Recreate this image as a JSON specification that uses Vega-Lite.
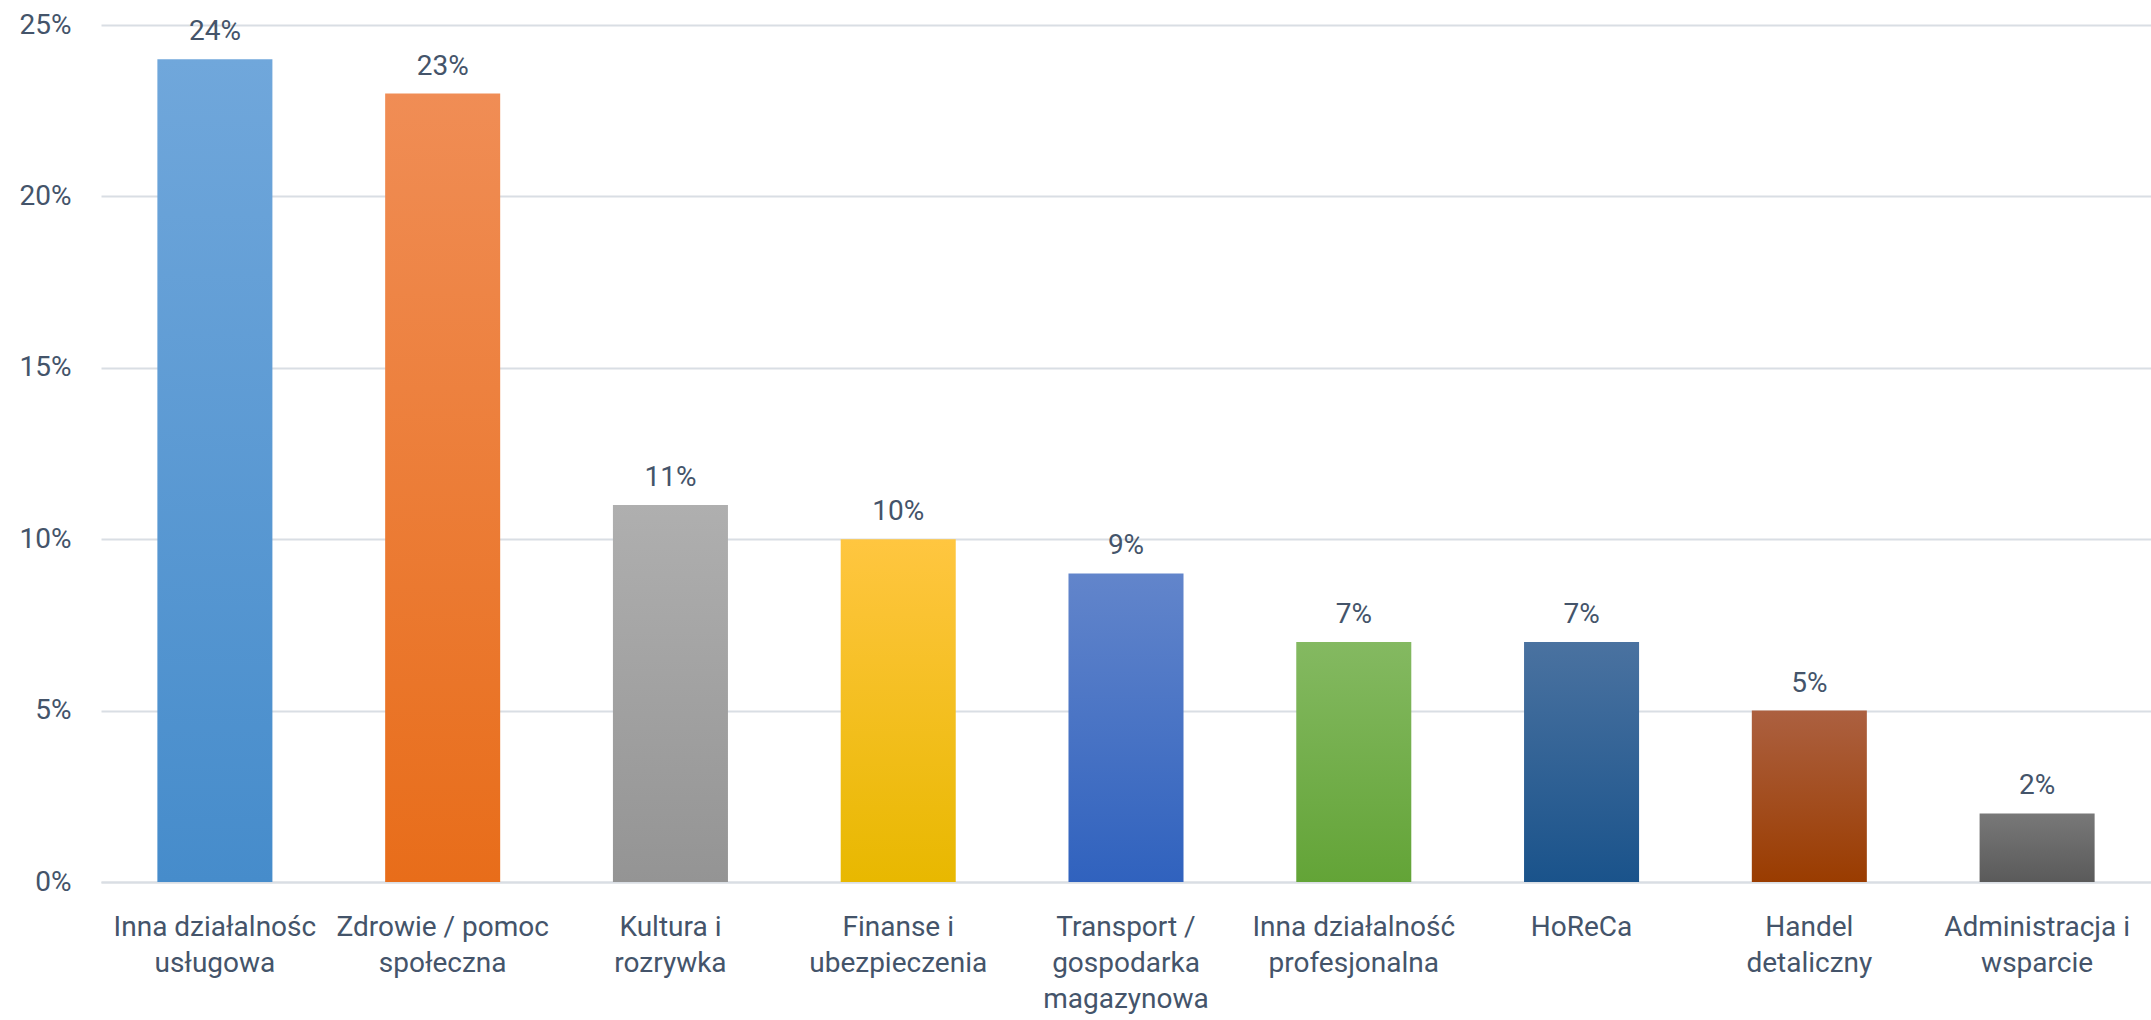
{
  "$schema": "https://vega.github.io/schema/vega-lite/v6.json",
  "width": 2050,
  "height": 857,
  "autosize": {"type": "none"},
  "padding": {"left": 101, "top": 25, "right": 0, "bottom": 138},
  "background": "white",
  "config": {"view": {"stroke": null}, "font": "Roboto"},
  "data": {"values": [
    {"cat": "Inna działalnośc\nusługowa", "v": 0.24},
    {"cat": "Zdrowie / pomoc\nspołeczna", "v": 0.23},
    {"cat": "Kultura i\nrozrywka", "v": 0.11},
    {"cat": "Finanse i\nubezpieczenia", "v": 0.10},
    {"cat": "Transport /\ngospodarka\nmagazynowa", "v": 0.09},
    {"cat": "Inna działalność\nprofesjonalna", "v": 0.07},
    {"cat": "HoReCa", "v": 0.07},
    {"cat": "Handel\ndetaliczny", "v": 0.05},
    {"cat": "Administracja i\nwsparcie", "v": 0.02}
  ]},
  "encoding": {
    "x": {
      "field": "cat", "type": "nominal", "sort": null,
      "scale": {
        "domain": ["Inna działalnośc\nusługowa", "Zdrowie / pomoc\nspołeczna", "Kultura i\nrozrywka", "Finanse i\nubezpieczenia", "Transport /\ngospodarka\nmagazynowa", "Inna działalność\nprofesjonalna", "HoReCa", "Handel\ndetaliczny", "Administracja i\nwsparcie"],
        "paddingInner": 0.495, "paddingOuter": 0.2475
      },
      "axis": {
        "title": null, "labelAngle": 0, "domain": true, "domainColor": "#D9DEE4", "domainWidth": 2,
        "ticks": false, "grid": false, "labelPadding": 31, "labelBaseline": "top", "labelLineHeight": 36,
        "labelExpr": "split(datum.value, '\\n')", "labelFontSize": 28, "labelColor": "#44546A",
        "labelLimit": 400, "labelFont": "Roboto"
      }
    },
    "y": {
      "field": "v", "type": "quantitative",
      "scale": {"domain": [0, 0.25], "nice": false},
      "axis": {
        "title": null, "values": [0, 0.05, 0.1, 0.15, 0.2, 0.25], "format": ".0%",
        "domain": false, "ticks": false, "grid": true, "gridColor": "#D9DEE4", "gridWidth": 2,
        "labelPadding": 30, "labelFontSize": 28, "labelColor": "#44546A", "labelFont": "Roboto"
      }
    }
  },
  "layer": [
    {"transform": [{"filter": "datum.cat == 'Inna działalnośc\\nusługowa'"}], "mark": {"type": "bar", "color": {"gradient": "linear", "x1": 0, "y1": 0, "x2": 0, "y2": 1, "stops": [{"offset": 0, "color": "#70A7DB"}, {"offset": 1, "color": "#468CCB"}]}}},
    {"transform": [{"filter": "datum.cat == 'Zdrowie / pomoc\\nspołeczna'"}], "mark": {"type": "bar", "color": {"gradient": "linear", "x1": 0, "y1": 0, "x2": 0, "y2": 1, "stops": [{"offset": 0, "color": "#F08D55"}, {"offset": 1, "color": "#E86D1A"}]}}},
    {"transform": [{"filter": "datum.cat == 'Kultura i\\nrozrywka'"}], "mark": {"type": "bar", "color": {"gradient": "linear", "x1": 0, "y1": 0, "x2": 0, "y2": 1, "stops": [{"offset": 0, "color": "#AFAFAF"}, {"offset": 1, "color": "#949494"}]}}},
    {"transform": [{"filter": "datum.cat == 'Finanse i\\nubezpieczenia'"}], "mark": {"type": "bar", "color": {"gradient": "linear", "x1": 0, "y1": 0, "x2": 0, "y2": 1, "stops": [{"offset": 0, "color": "#FFC640"}, {"offset": 1, "color": "#E8B800"}]}}},
    {"transform": [{"filter": "datum.cat == 'Transport /\\ngospodarka\\nmagazynowa'"}], "mark": {"type": "bar", "color": {"gradient": "linear", "x1": 0, "y1": 0, "x2": 0, "y2": 1, "stops": [{"offset": 0, "color": "#6285CB"}, {"offset": 1, "color": "#3062BE"}]}}},
    {"transform": [{"filter": "datum.cat == 'Inna działalność\\nprofesjonalna'"}], "mark": {"type": "bar", "color": {"gradient": "linear", "x1": 0, "y1": 0, "x2": 0, "y2": 1, "stops": [{"offset": 0, "color": "#84B961"}, {"offset": 1, "color": "#63A437"}]}}},
    {"transform": [{"filter": "datum.cat == 'HoReCa'"}], "mark": {"type": "bar", "color": {"gradient": "linear", "x1": 0, "y1": 0, "x2": 0, "y2": 1, "stops": [{"offset": 0, "color": "#4A72A0"}, {"offset": 1, "color": "#1A538B"}]}}},
    {"transform": [{"filter": "datum.cat == 'Handel\\ndetaliczny'"}], "mark": {"type": "bar", "color": {"gradient": "linear", "x1": 0, "y1": 0, "x2": 0, "y2": 1, "stops": [{"offset": 0, "color": "#AC6040"}, {"offset": 1, "color": "#9A3C00"}]}}},
    {"transform": [{"filter": "datum.cat == 'Administracja i\\nwsparcie'"}], "mark": {"type": "bar", "color": {"gradient": "linear", "x1": 0, "y1": 0, "x2": 0, "y2": 1, "stops": [{"offset": 0, "color": "#787878"}, {"offset": 1, "color": "#5A5A5A"}]}}},
    {
      "mark": {"type": "text", "baseline": "alphabetic", "dy": -19, "fontSize": 28, "color": "#44546A", "font": "Roboto"},
      "encoding": {"text": {"field": "v", "type": "quantitative", "format": ".0%"}}
    }
  ]
}
